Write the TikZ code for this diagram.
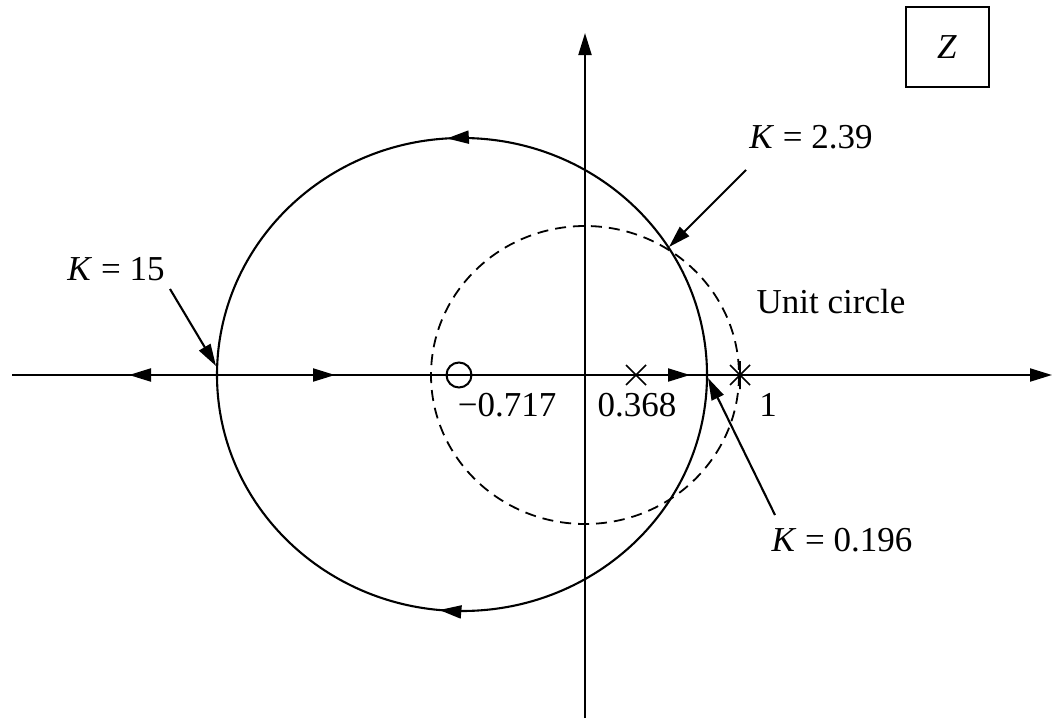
\documentclass[tikz,border=0pt]{standalone}
\usepackage{fontspec}
\setmainfont{Liberation Serif}
\usetikzlibrary{arrows.meta,positioning,decorations.markings}

\tikzset{
  locus/.style={line width=2.1pt},
  axis/.style={line width=2.1pt,-{Triangle[length=22pt,width=13pt]}},
  tip/.style={-{Triangle[length=22pt,width=13pt]}},
  midarrow/.style={postaction={decorate},decoration={markings,
    mark=at position #1 with {\arrow{Triangle[length=22pt,width=13pt]}}}},
  unitc/.style={line width=1.8pt,dash pattern=on 11pt off 7pt},
  lbl/.style={font=\fontsize{35}{40}\selectfont,inner sep=0pt},
  pointer/.style={line width=2.1pt,-{Triangle[length=22pt,width=13pt]}}
}

\begin{document}
\begin{tikzpicture}[x=1pt,y=-1pt]
  \useasboundingbox (0,0) rectangle (1055,728);

  % axes
  \coordinate (o) at (585,375);
  \draw[axis] (12,375) -- (1052,375);
  \draw[axis] (585,718) -- (585,33);

  % unit circle
  \draw[unitc] (o) ellipse (154 and 149);

  % locus circle, both arcs run right to left
  \draw[locus,midarrow=0.52] (707,375) arc (0:-180:245 and 237);
  \draw[locus,midarrow=0.53] (707,375) arc (0:180:245 and 236);

  % branches on the real axis
  \draw[locus,tip] (216,375) -- (129,375);
  \draw[locus,tip] (216,375) -- (335,375);
  \draw[locus,tip] (636,375) -- (690,375);

  % zero and poles
  \draw[line width=2pt] (459,375) circle (12.5);
  \draw[line width=1.6pt] (626,365) -- (646,385) (626,385) -- (646,365);
  \draw[line width=1.6pt] (730,365) -- (750,385) (730,385) -- (750,365)
    (740,361) -- (740,389);

  % axis labels
  \node[lbl] (zero) at (507,405) {−0.717};
  \node[lbl] (pole1) at (637,405) {0.368};
  \node[lbl] (pole2) at (768,405) {1};

  % plane label
  \node[lbl,draw,line width=2pt,minimum width=83pt,minimum height=80pt]
    (plane) at (947,47) {\textit{Z}};

  % gain labels
  \node[lbl] (k15) at (116,269) {\textit{K} = 15};
  \node[lbl] (k239) at (811,137) {\textit{K} = 2.39};
  \node[lbl] (k0196) at (842,540) {\textit{K} = 0.196};
  \node[lbl] (unit) at (831,302) {Unit circle};

  \coordinate (p15) at (216,366);
  \coordinate (p239) at (669,247);
  \coordinate (p0196) at (708,378);
  \draw[pointer] (170,289) -- (p15);
  \draw[pointer] (746,170) -- (p239);
  \draw[pointer] (775,515) -- (p0196);
\end{tikzpicture}
\end{document}
